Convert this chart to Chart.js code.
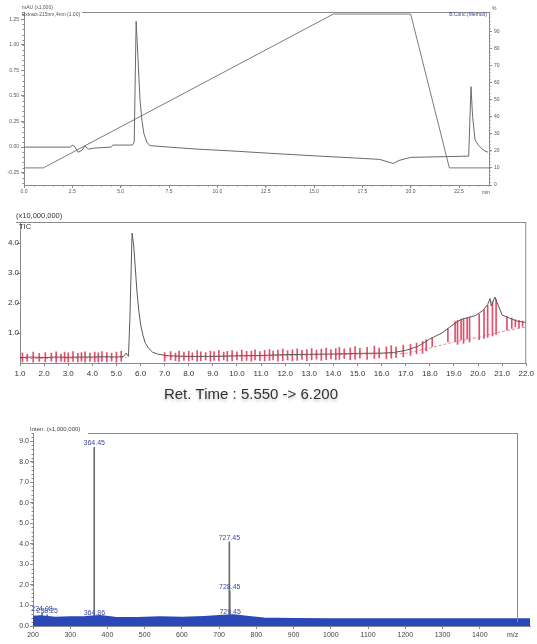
<!DOCTYPE html>
<html>
<head>
<meta charset="utf-8">
<script src="https://cdn.jsdelivr.net/npm/chart.js@4.4.1/dist/chart.umd.min.js"></script>
<style>
  body { margin: 0; background: #fff; width: 537px; height: 644px; overflow: hidden; position: relative; }
  canvas { position: absolute; left: 0; }
</style>
</head>
<body>
<canvas id="uvChart" width="537" height="197" style="top:0px"></canvas>
<canvas id="ticChart" width="537" height="210" style="top:200px"></canvas>
<canvas id="msChart" width="537" height="234" style="top:410px"></canvas>
<script>
// --- HPLC UV trace (mAU x1,000) and solvent gradient (B.Conc %) ---
var uvTime = [0, 2.4, 2.5, 2.6, 2.8, 3.0, 3.15, 3.35, 3.6, 4.5, 4.6, 5.6, 5.7, 5.8, 5.9, 6.0, 6.1, 6.2, 6.35, 6.5, 7.5, 9.0, 11.0, 12.7, 15.0, 17.0, 18.4, 19.1, 19.4, 20.0, 23.0, 23.05, 23.12, 23.2, 23.33, 23.5, 23.76, 24.0];
var uvAbs  = [0.00, 0.00, 0.02, 0.01, -0.05, -0.03, 0.01, -0.02, -0.01, 0.00, 0.02, 0.02, 0.05, 1.23, 0.85, 0.46, 0.26, 0.13, 0.05, 0.015, 0.0, -0.02, -0.04, -0.06, -0.085, -0.105, -0.12, -0.16, -0.13, -0.10, -0.088, 0.2, 0.59, 0.3, 0.07, 0.02, -0.03, -0.05];
var gradTime = [0, 1, 16, 20, 22, 24.05];
var gradPct  = [10, 10, 100, 100, 10, 10];
var uvXTicks = [0, 2.5, 5.0, 7.5, 10.0, 12.5, 15.0, 17.5, 20.0, 22.5];
var uvYTicks = [-0.25, 0.00, 0.25, 0.50, 0.75, 1.00, 1.25];
var pctTicks = [0, 10, 20, 30, 40, 50, 60, 70, 80, 90];

// --- TIC (x10,000,000) ---
var ticTime = [1.0, 1.5, 2.0, 2.5, 3.0, 3.5, 4.0, 4.5, 5.0, 5.3, 5.4, 5.5, 5.56, 5.65, 5.72, 5.78, 5.85, 5.92, 6.0, 6.1, 6.2, 6.35, 6.5, 6.7, 6.9, 7.2, 8.0, 9.0, 10.0, 11.0, 12.0, 13.0, 14.0, 15.0, 16.0, 16.5, 17.0, 17.5, 18.0, 18.5, 19.0, 19.3, 19.6, 19.9, 20.2, 20.4, 20.5, 20.55, 20.7, 20.8, 21.0, 21.3, 21.6, 22.0];
var ticInt  = [0.18, 0.2, 0.18, 0.2, 0.19, 0.2, 0.2, 0.21, 0.2, 0.22, 0.33, 0.22, 1.5, 4.33, 3.9, 3.2, 2.4, 1.8, 1.3, 0.92, 0.66, 0.48, 0.36, 0.3, 0.27, 0.24, 0.22, 0.22, 0.24, 0.25, 0.28, 0.29, 0.3, 0.32, 0.33, 0.35, 0.42, 0.55, 0.8, 1.0, 1.3, 1.45, 1.52, 1.58, 1.75, 1.95, 2.15, 1.9, 2.2, 2.0, 1.6, 1.5, 1.4, 1.35];
var redT  = [1.1, 1.3, 1.55, 1.8, 2.05, 2.3, 2.5, 2.7, 2.85, 3.0, 3.2, 3.4, 3.55, 3.7, 3.9, 4.1, 4.25, 4.4, 4.6, 4.8, 5.0, 5.2,
             7.0, 7.25, 7.45, 7.6, 7.8, 8.0, 8.15, 8.35, 8.5, 8.7, 8.9, 9.05, 9.25, 9.45, 9.6, 9.8, 10.0, 10.2, 10.4, 10.6, 10.75, 10.95, 11.15, 11.35, 11.5, 11.7, 11.9, 12.1, 12.3, 12.5, 12.7, 12.9, 13.1, 13.3, 13.5, 13.7, 13.9, 14.1, 14.25, 14.45, 14.7, 14.9, 15.1, 15.4, 15.7, 15.9, 16.2, 16.4, 16.6, 16.9,
             17.2, 17.45, 17.7, 17.85, 18.1, 18.75, 19.05, 19.15, 19.3, 19.4, 19.55, 19.65, 20.05, 20.25, 20.4, 20.6, 20.75, 21.2, 21.4, 21.55, 21.7, 21.85];
var redHi = [0.34, 0.3, 0.36, 0.32, 0.35, 0.33, 0.37, 0.3, 0.36, 0.34, 0.38, 0.32, 0.35, 0.37, 0.33, 0.36, 0.34, 0.38, 0.35, 0.33, 0.36, 0.4,
             0.35, 0.38, 0.33, 0.4, 0.36, 0.39, 0.34, 0.41, 0.37, 0.35, 0.4, 0.38, 0.42, 0.36, 0.39, 0.41, 0.37, 0.43, 0.39, 0.4, 0.44, 0.38, 0.42, 0.45, 0.4, 0.43, 0.46, 0.41, 0.44, 0.47, 0.42, 0.45, 0.48, 0.43, 0.46, 0.5, 0.45, 0.48, 0.52, 0.47, 0.5, 0.55, 0.49, 0.52, 0.56, 0.5, 0.54, 0.58, 0.53, 0.6,
             0.62, 0.66, 0.72, 0.78, 0.85, 1.15, 1.38, 1.42, 1.46, 1.48, 1.5, 1.52, 1.62, 1.78, 1.92, 2.05, 2.12, 1.55, 1.5, 1.45, 1.42, 1.4];
var redLo = [0.04, 0.06, 0.03, 0.05, 0.04, 0.06, 0.03, 0.05, 0.04, 0.03, 0.05, 0.04, 0.06, 0.03, 0.05, 0.04, 0.03, 0.05, 0.04, 0.06, 0.03, 0.05,
             0.06, 0.1, 0.08, 0.05, 0.09, 0.07, 0.1, 0.06, 0.08, 0.1, 0.05, 0.09, 0.07, 0.1, 0.06, 0.08, 0.1, 0.07, 0.09, 0.06, 0.1, 0.08, 0.07, 0.09, 0.1, 0.06, 0.08, 0.1, 0.07, 0.09, 0.12, 0.08, 0.1, 0.13, 0.09, 0.11, 0.14, 0.1, 0.12, 0.15, 0.11, 0.13, 0.16, 0.12, 0.15, 0.17, 0.14, 0.16, 0.18, 0.2,
             0.25, 0.3, 0.32, 0.4, 0.55, 0.7, 0.72, 0.62, 0.78, 0.65, 0.8, 0.7, 0.78, 0.82, 0.85, 0.9, 0.95, 1.1, 1.15, 1.2, 1.18, 1.22];
var redBaseT = [1.0, 5.4, 6.2, 7.0, 12.0, 17.0, 18.0, 19.0, 20.0, 21.0, 22.0];
var redBaseV = [0.15, 0.18, null, 0.2, 0.25, 0.32, 0.5, 0.7, 0.85, 1.05, 1.2];
var ticXTicks = [1.0, 2.0, 3.0, 4.0, 5.0, 6.0, 7.0, 8.0, 9.0, 10.0, 11.0, 12.0, 13.0, 14.0, 15.0, 16.0, 17.0, 18.0, 19.0, 20.0, 21.0, 22.0];
var ticYTicks = [1.0, 2.0, 3.0, 4.0];

// --- Mass spectrum (x1,000,000) ---
var msMz  = [224.08, 238.25, 364.45, 364.86, 727.45, 728.45, 729.45];
var msInt = [0.63, 0.55, 8.7, 0.45, 4.1, 1.7, 0.5];
var noiseMz  = [200, 220, 260, 300, 340, 380, 420, 480, 540, 600, 660, 700, 740, 780, 820, 900, 1000, 1100, 1200, 1300, 1400, 1500, 1535];
var noiseInt = [0.42, 0.45, 0.38, 0.4, 0.42, 0.46, 0.38, 0.36, 0.4, 0.38, 0.42, 0.46, 0.5, 0.42, 0.34, 0.32, 0.3, 0.3, 0.3, 0.3, 0.3, 0.3, 0.3];
var msXTicks = [200, 300, 400, 500, 600, 700, 800, 900, 1000, 1100, 1200, 1300, 1400];
var msYTicks = [0, 1, 2, 3, 4, 5, 6, 7, 8, 9];
var msFrameEnd = 1500;

Chart.defaults.font.family = "'Liberation Sans', Arial, sans-serif";
Chart.defaults.animation = false;
Chart.defaults.plugins.legend.display = false;
Chart.defaults.plugins.tooltip.enabled = false;

function pts( xs, ys ) { return xs.map( function( x, i ) { return { x: x, y: ys[i] }; } ); }
function bars( xs, lo, hi ) { return xs.map( function( x, i ) { return { x: x, y: [ lo[i], hi[i] ] }; } ); }
function setTicks( list ) { return function( s ) { s.ticks = list.map( function( v ) { return { value: v }; } ); }; }
function fixW( w ) { return function( s ) { s.width = w; }; }
function fixH( h ) { return function( s ) { s.height = h; }; }

function axis( opts )
{
    var a = {
        type: 'linear', min: opts.min, max: opts.max, position: opts.position, offset: false,
        afterBuildTicks: setTicks( opts.ticks ),
        ticks: { autoSkip: false, maxRotation: 0, color: opts.color || '#555', padding: opts.pad, font: { size: opts.size }, callback: opts.fmt },
        grid: { drawOnChartArea: false, offset: false, color: '#8a8a8a', tickLength: opts.tick || 3 },
        border: { color: '#8a8a8a' }
    };
    if ( opts.w ) a.afterFit = fixW( opts.w );
    if ( opts.h ) a.afterFit = fixH( opts.h );
    return a;
}

function text( ctx, s, x, y, size, color, align )
{
    ctx.save();
    ctx.font = size + "px 'Liberation Sans', Arial, sans-serif";
    ctx.fillStyle = color;
    ctx.textAlign = align || 'left';
    ctx.textBaseline = 'middle';
    ctx.fillText( s, x, y );
    ctx.restore();
}

function hline( ctx, x1, x2, y ) { ctx.save(); ctx.strokeStyle = '#8a8a8a'; ctx.lineWidth = 1; ctx.beginPath(); ctx.moveTo( x1, y ); ctx.lineTo( x2, y ); ctx.stroke(); ctx.restore(); }
function vline( ctx, x, y1, y2 ) { ctx.save(); ctx.strokeStyle = '#8a8a8a'; ctx.lineWidth = 1; ctx.beginPath(); ctx.moveTo( x, y1 ); ctx.lineTo( x, y2 ); ctx.stroke(); ctx.restore(); }

// small minor tick marks along an axis, placed through the scale
function minor( ctx, scale, from, to, step, side, len )
{
    var a = scale.chart.chartArea, n = Math.round( ( to - from ) / step );
    ctx.save();
    ctx.strokeStyle = '#8a8a8a';
    ctx.lineWidth = 1;
    ctx.beginPath();
    for ( var k = 0; k <= n; k++ ) {
        var p = Math.round( scale.getPixelForValue( from + k * step ) ) + 0.5;
        if ( side === 'left' ) { ctx.moveTo( a.left - len, p ); ctx.lineTo( a.left, p ); }
        if ( side === 'right' ) { ctx.moveTo( a.right, p ); ctx.lineTo( a.right + len, p ); }
        if ( side === 'bottom' ) { ctx.moveTo( p, a.bottom ); ctx.lineTo( p, a.bottom + len ); }
    }
    ctx.stroke();
    ctx.restore();
}

// ---------- panel 1 ----------
new Chart( document.getElementById( 'uvChart' ), {
    type: 'line',
    data: {
        datasets: [
            { data: pts( uvTime, uvAbs ), yAxisID: 'y', borderColor: '#6a6a6a', borderWidth: 1, pointRadius: 0, tension: 0 },
            { data: pts( gradTime, gradPct ), yAxisID: 'y2', borderColor: '#7a7a7a', borderWidth: 1, pointRadius: 0, tension: 0 }
        ]
    },
    options: {
        responsive: false, devicePixelRatio: 1,
        layout: { padding: { top: 12, left: 0, right: 0, bottom: 0 } },
        scales: {
            x: axis( { min: 0, max: 24.05, ticks: uvXTicks, size: 5, pad: 1, h: 12, fmt: function( v ) { return v.toFixed( 1 ); } } ),
            y: axis( { min: -0.37, max: 1.32, position: 'left', ticks: uvYTicks, size: 5, pad: 2, w: 24, fmt: function( v ) { return v.toFixed( 2 ); } } ),
            y2: axis( { min: 0, max: 101.2, position: 'right', ticks: pctTicks, size: 5, pad: 2, w: 48, fmt: function( v ) { return String( v ); } } )
        }
    },
    plugins: [ {
        id: 'uvText',
        afterDraw: function( chart ) {
            var ctx = chart.ctx, a = chart.chartArea, s = chart.scales;
            hline( ctx, 82, a.right, a.top + 0.5 );
            minor( ctx, s.y, -0.35, 1.30, 0.05, 'left', 1.5 );
            minor( ctx, s.y2, 0, 100, 2, 'right', 1.5 );
            minor( ctx, s.x, 0, 24, 0.5, 'bottom', 1.5 );
            text( ctx, 'mAU (x1,000)', 22, 8, 5, '#555' );
            text( ctx, 'Extract-215nm,4nm (1.00)', 22, 15, 5, '#555' );
            text( ctx, 'B.Conc.(Method)', a.right - 2, 15, 5, '#3a4a9a', 'right' );
            text( ctx, '%', a.right + 3, 9, 5, '#555' );
            text( ctx, 'min', 482, 193, 5, '#555' );
        }
    } ]
} );

// ---------- panel 2 ----------
new Chart( document.getElementById( 'ticChart' ), {
    type: 'line',
    data: {
        datasets: [
            { data: pts( ticTime, ticInt ), borderColor: '#5a5a5a', borderWidth: 1, pointRadius: 0, tension: 0, order: 0 },
            { type: 'bar', data: bars( redT, redLo, redHi ), backgroundColor: '#e4506c', barThickness: 1, order: 1 },
            { data: pts( redBaseT, redBaseV ), borderColor: 'rgba(228,80,108,0.7)', borderWidth: 1, borderDash: [3, 2], pointRadius: 0, spanGaps: false, order: 2 }
        ]
    },
    options: {
        responsive: false, devicePixelRatio: 1,
        layout: { padding: { top: 22, left: 0, right: 10, bottom: 0 } },
        scales: {
            x: axis( { min: 1.0, max: 22.0, ticks: ticXTicks, size: 8, pad: 3, h: 47, color: '#333', fmt: function( v ) { return v.toFixed( 1 ); } } ),
            y: axis( { min: 0, max: 4.7, position: 'left', ticks: ticYTicks, size: 8, pad: -2, w: 20, color: '#333', fmt: function( v ) { return v.toFixed( 1 ); } } )
        }
    },
    plugins: [ {
        id: 'ticText',
        afterDraw: function( chart ) {
            var ctx = chart.ctx, a = chart.chartArea;
            hline( ctx, 16, a.right, a.top + 0.5 );
            vline( ctx, a.right - 0.5, a.top, a.bottom );
            text( ctx, '(x10,000,000)', 16, 16, 7.5, '#333' );
            text( ctx, 'TIC', 19, 27, 7.5, '#333' );
            ctx.save();
            ctx.shadowColor = 'rgba(0,0,0,0.25)';
            ctx.shadowBlur = 3;
            ctx.shadowOffsetY = 2;
            text( ctx, 'Ret. Time : 5.550 -> 6.200', 251, 195, 15, '#333', 'center' );
            ctx.restore();
        }
    } ]
} );

// ---------- panel 3 ----------
new Chart( document.getElementById( 'msChart' ), {
    type: 'line',
    data: {
        datasets: [
            { type: 'bar', data: pts( msMz, msInt ), backgroundColor: '#6e6e6e', barThickness: 1, order: 1 },
            { data: pts( noiseMz, noiseInt ), borderColor: '#2a48b8', backgroundColor: '#2a48b8', borderWidth: 3, fill: 'origin', pointRadius: 0, tension: 0, order: 0 }
        ]
    },
    options: {
        responsive: false, devicePixelRatio: 1,
        layout: { padding: { top: 23, left: 0, right: 7, bottom: 0 } },
        scales: {
            x: axis( { min: 200, max: 1535, ticks: msXTicks, size: 7, pad: 2, h: 18, color: '#444', fmt: function( v ) { return String( v ); } } ),
            y: axis( { min: 0, max: 9.4, position: 'left', ticks: msYTicks, size: 7, pad: 1, w: 33, color: '#444', fmt: function( v ) { return v.toFixed( 1 ); } } )
        }
    },
    plugins: [ {
        id: 'msText',
        afterDraw: function( chart ) {
            var ctx = chart.ctx, a = chart.chartArea, sx = chart.scales.x, sy = chart.scales.y;
            var xr = Math.round( sx.getPixelForValue( msFrameEnd ) ) + 0.5;
            hline( ctx, 88, xr, a.top + 0.5 );
            vline( ctx, xr, a.top, a.bottom - 4 );
            minor( ctx, sy, 0, 9.4, 0.2, 'left', 1.5 );
            text( ctx, 'Inten. (x1,000,000)', 30, 19, 6, '#444' );
            text( ctx, 'm/z', 507, 225, 7, '#444' );
            msMz.forEach( function( mz, i ) {
                text( ctx, mz.toFixed( 2 ), sx.getPixelForValue( mz ), sy.getPixelForValue( msInt[i] ) - 4, 7, '#3a4a9e', 'center' );
            } );
        }
    } ]
} );
</script>
</body>
</html>
